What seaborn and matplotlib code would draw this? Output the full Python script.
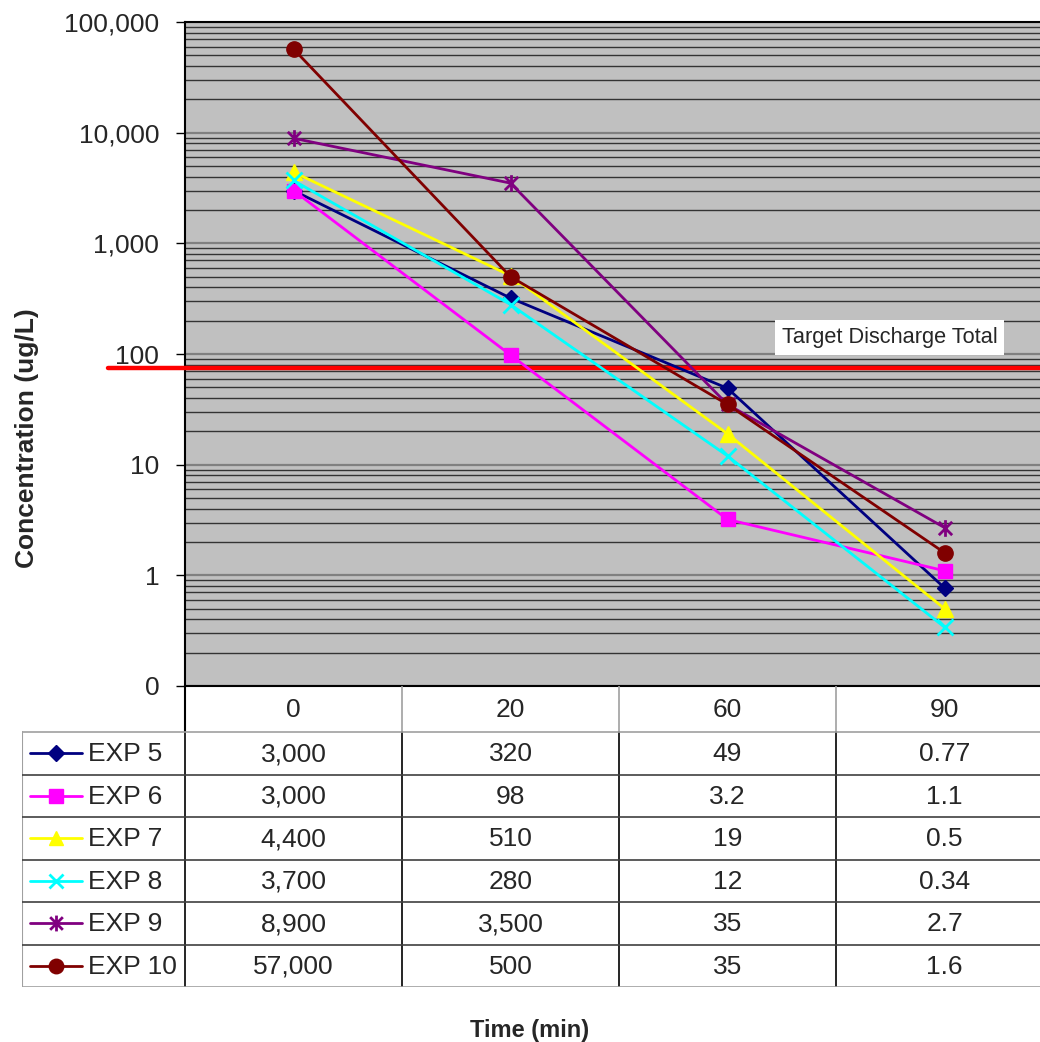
import numpy as np
import pandas as pd
import matplotlib
matplotlib.use("Agg")
import matplotlib.pyplot as plt
from matplotlib.path import Path
import seaborn as sns

# ---------------- data ----------------
times = ["0", "20", "60", "90"]
series_names = ["EXP 5", "EXP 6", "EXP 7", "EXP 8", "EXP 9", "EXP 10"]
exp5 = [3000, 320, 49, 0.77]
exp6 = [3000, 98, 3.2, 1.1]
exp7 = [4400, 510, 19, 0.5]
exp8 = [3700, 280, 12, 0.34]
exp9 = [8900, 3500, 35, 2.7]
exp10 = [57000, 500, 35, 1.6]
table_text = [
    ["3,000", "320", "49", "0.77"],
    ["3,000", "98", "3.2", "1.1"],
    ["4,400", "510", "19", "0.5"],
    ["3,700", "280", "12", "0.34"],
    ["8,900", "3,500", "35", "2.7"],
    ["57,000", "500", "35", "1.6"],
]
target_value = 75
target_label = "Target Discharge Total"
y_ticks = [0.1, 1, 10, 100, 1000, 10000, 100000]
y_tick_labels = ["0", "1", "10", "100", "1,000", "10,000", "100,000"]

all_values = [exp5, exp6, exp7, exp8, exp9, exp10]

# ---------------- style ----------------
sns.set_style("white")
plt.rcParams["font.family"] = ["Liberation Sans", "DejaVu Sans"]

colors = ["#000080", "#FF00FF", "#FFFF00", "#00FFFF", "#800080", "#800000"]
star = Path([(0, -1), (0, 1), (-0.8, -0.8), (0.8, 0.8), (-0.8, 0.8), (0.8, -0.8)],
            [Path.MOVETO, Path.LINETO, Path.MOVETO, Path.LINETO, Path.MOVETO, Path.LINETO])
markers = ["D", "s", "^", "x", star, "o"]
msizes = [8.5, 10, 11, 11, 12, 11]

W, H = 1040, 1042
fig = plt.figure(figsize=(W / 100, H / 100), dpi=100)

# main axes: plot area from x=185 to 1053 px, y=22 to 686 px
ax = fig.add_axes([185 / W, 1 - 686 / H, (1053 - 185) / W, (686 - 22) / H])
ax.set_facecolor("#C0C0C0")

df = pd.DataFrame({
    "pos": np.tile(np.arange(len(times)), len(series_names)),
    "value": np.concatenate(all_values),
    "series": np.repeat(series_names, len(times)),
})

ax.set_yscale("log")
for i, name in enumerate(series_names):
    sub = df[df["series"] == name]
    sns.lineplot(data=sub, x="pos", y="value", ax=ax, color=colors[i],
                 marker=markers[i], markersize=msizes[i], markeredgecolor=colors[i],
                 markeredgewidth=2 if i in (3, 4) else 1, linewidth=2.0,
                 legend=False, zorder=5, estimator=None)

ax.set_xlim(-0.5, len(times) - 0.5)
ax.set_ylim(0.1, 100000)
ax.set_yticks(y_ticks)
ax.set_yticklabels(y_tick_labels)
ax.set_xticks([])
ax.yaxis.set_minor_locator(matplotlib.ticker.LogLocator(base=10, subs=np.arange(2, 10)))
ax.yaxis.set_minor_formatter(matplotlib.ticker.NullFormatter())
ax.tick_params(axis="y", which="major", length=6.5, width=1, color="#000000",
               labelsize=19, pad=12, left=True, direction="out")
ax.tick_params(axis="y", which="minor", length=0)
ax.grid(True, which="minor", axis="y", color="#333333", linewidth=1.0)
ax.grid(True, which="major", axis="y", color="#808080", linewidth=1.6)
ax.set_axisbelow(True)
for s in ["left", "top", "bottom"]:
    ax.spines[s].set_color("black")
    ax.spines[s].set_linewidth(1.5)
ax.spines["right"].set_visible(False)
ax.set_xlabel("")
ax.set_ylabel("Concentration (ug/L)", fontsize=19, fontweight="bold")
ax.yaxis.set_label_coords((39 - 185) / (1053 - 185), (686 - 438) / (686 - 22))

# target line
ax.axhline(target_value, xmin=(108 - 185) / (1053 - 185), xmax=1, color="#FF0000",
           linewidth=3.2, clip_on=False, zorder=4)
ax.text((782 - 185) / (1053 - 185), 141, target_label, fontsize=15.7, va="center", ha="left",
        transform=matplotlib.transforms.blended_transform_factory(ax.transAxes, ax.transData),
        bbox=dict(boxstyle="square,pad=0.3", facecolor="white", edgecolor="none"), zorder=6)

# ---------------- data table ----------------
tab = fig.add_axes([22 / W, 1 - 987 / H, (1053 - 22) / W, 301 / H])
tab.set_xlim(-0.5 - 163 / 217, len(times) - 0.5)
tab.set_ylim(301, 0)
tab.axis("off")
xmin_t = -0.5 - 163 / 217
header_h = 46
row_h = 42.5

def px(p):
    return -0.5 + (p - 185) / 217

# header labels
for j, t in enumerate(times):
    tab.text(j, header_h / 2 + 1, t, ha="center", va="center", fontsize=19)
# header vertical separators (gray)
for j in range(1, len(times)):
    tab.plot([j - 0.5, j - 0.5], [0, header_h], color="#A0A0A0", linewidth=1.2)
tab.plot([-0.5, -0.5], [0, header_h], color="black", linewidth=1.5)
# data vertical separators (black)
for j in range(len(times)):
    tab.plot([j - 0.5, j - 0.5], [header_h, header_h + row_h * len(series_names)],
             color="black", linewidth=1.2)
# left border
tab.plot([xmin_t, xmin_t], [header_h, header_h + row_h * len(series_names)],
         color="#A0A0A0", linewidth=1.5)
# horizontal lines
for k in range(len(series_names) + 1):
    yk = header_h + row_h * k
    c = "#A0A0A0" if k in (0, len(series_names)) else "#404040"
    tab.plot([xmin_t, len(times) - 0.5], [yk, yk], color=c, linewidth=1.2)

for i, name in enumerate(series_names):
    yc = header_h + row_h * i + row_h / 2
    tab.plot([px(30), px(82)], [yc, yc], color=colors[i], linewidth=2.0)
    tab.plot([px(56)], [yc], marker=markers[i], markersize=msizes[i] * 0.95,
             color=colors[i], markeredgecolor=colors[i],
             markeredgewidth=2 if i in (3, 4) else 1)
    tab.text(px(88), yc + 1, name, ha="left", va="center", fontsize=19)
    for j in range(len(times)):
        tab.text(j, yc + 1, table_text[i][j], ha="center", va="center", fontsize=19)

fig.text(530 / W, 1 - 1030 / H, "Time (min)", ha="center", va="center",
         fontsize=17, fontweight="bold")

fig.savefig("out.png", dpi=100, facecolor="white")
